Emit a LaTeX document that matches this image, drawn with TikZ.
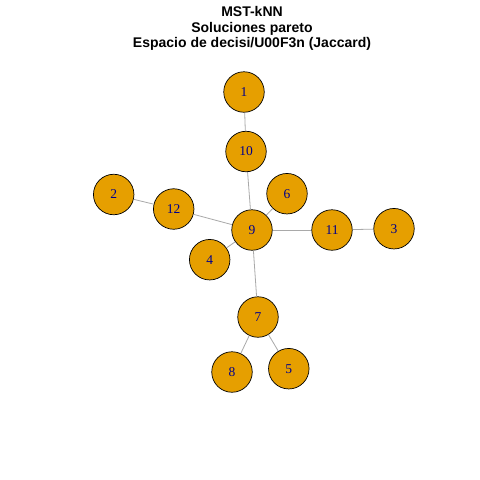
\documentclass[tikz,border=0pt]{standalone}
\usepackage{fontspec}
\setmainfont{Liberation Serif}
\newfontfamily\titlefont{Liberation Sans}
\definecolor{nodefill}{RGB}{230,159,0}
\definecolor{edgecol}{RGB}{169,169,169}
\definecolor{labcol}{RGB}{0,0,139}
\tikzset{
  vtx/.style={circle,draw=black,fill=nodefill,line width=0.7pt,minimum size=40.5pt,inner sep=0pt,text=labcol,font=\fontsize{13.5}{13.5}\selectfont},
  edge/.style={draw=edgecol,line width=0.8pt},
  ttl/.style={font=\titlefont\bfseries\fontsize{14}{14}\selectfont,anchor=base}
}
\begin{document}
\begin{tikzpicture}[x=1pt,y=-1pt]
\fill[white] (0,0) rectangle (480,480);
\useasboundingbox (0,0) rectangle (480,480);
\node[ttl] (t1) at (252,16.8) {MST-kNN};
\node[ttl] (t2) at (252,32.3) {Soluciones pareto};
\node[ttl] (t3) at (252,47.8) {Espacio de decisi/U00F3n (Jaccard)};
\node[vtx] (n1) at (244,92) {1};
\node[vtx] (n10) at (246,151.5) {10};
\node[vtx] (n6) at (287,193.7) {6};
\node[vtx] (n2) at (113.7,194.5) {2};
\node[vtx] (n12) at (173.7,209) {12};
\node[vtx] (n9) at (252,230) {9};
\node[vtx] (n11) at (332,230) {11};
\node[vtx] (n3) at (394,228.7) {3};
\node[vtx] (n4) at (209.7,259.7) {4};
\node[vtx] (n7) at (258,317) {7};
\node[vtx] (n8) at (232,372) {8};
\node[vtx] (n5) at (288.8,368.7) {5};
\draw[edge] (n1) -- (n10);
\draw[edge] (n10) -- (n9);
\draw[edge] (n6) -- (n9);
\draw[edge] (n2) -- (n12);
\draw[edge] (n12) -- (n9);
\draw[edge] (n9) -- (n11);
\draw[edge] (n11) -- (n3);
\draw[edge] (n9) -- (n4);
\draw[edge] (n9) -- (n7);
\draw[edge] (n7) -- (n8);
\draw[edge] (n7) -- (n5);
\end{tikzpicture}
\end{document}
